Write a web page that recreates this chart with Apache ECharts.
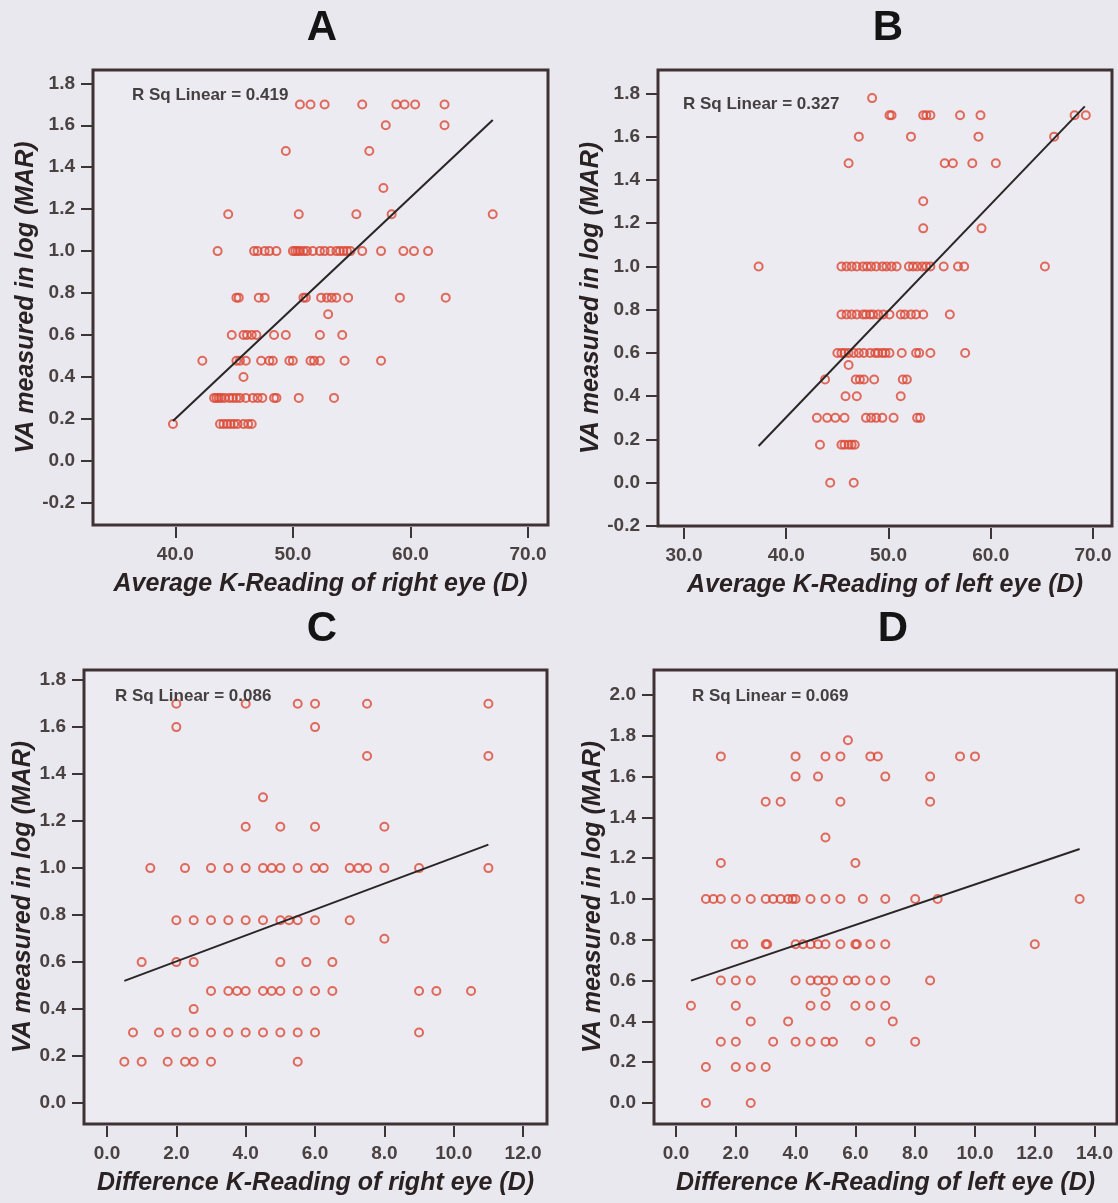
<!DOCTYPE html>
<html>
<head>
<meta charset="utf-8">
<script src="https://cdn.jsdelivr.net/npm/echarts@6/dist/echarts.min.js"></script>
<style>
  html, body { margin: 0; padding: 0; background: #e9e8ef; }
  #container { width: 1118px; height: 1203px; }
</style>
</head>
<body>
<div id="container"></div>
<script>
// VA (logMAR) levels, one row of K-readings per level
const vaA = [1.699, 1.6, 1.477, 1.301, 1.176, 1.0, 0.778, 0.699, 0.6, 0.477, 0.4, 0.3, 0.176];
const kA = [
  [50.6, 51.5, 52.7, 55.9, 58.8, 59.5, 60.4, 62.9],
  [57.9, 62.9],
  [49.4, 56.5],
  [57.7],
  [44.5, 50.5, 55.4, 58.4, 67.0],
  [43.6, 46.7, 47.0, 47.6, 48.0, 48.6, 50.0, 50.2, 50.4, 50.6, 50.9, 51.2, 51.7, 52.3, 52.7, 53.2, 53.7, 54.0, 54.3, 54.6, 54.9, 55.9, 57.5, 59.4, 60.3, 61.5],
  [45.2, 45.4, 47.1, 47.6, 50.9, 51.1, 52.4, 52.9, 53.3, 53.7, 54.7, 59.1, 63.0],
  [53.0],
  [44.8, 45.8, 46.1, 46.5, 46.9, 48.4, 49.4, 52.3, 54.2],
  [42.3, 45.2, 45.5, 46.0, 47.3, 48.0, 48.3, 49.7, 50.0, 51.5, 51.8, 52.3, 54.4, 57.5],
  [45.8],
  [43.3, 43.5, 43.7, 43.9, 44.2, 44.6, 44.9, 45.2, 45.5, 46.0, 46.6, 47.0, 47.4, 48.4, 48.6, 50.5, 53.5],
  [39.8, 43.8, 44.1, 44.4, 44.7, 45.0, 45.3, 45.8, 46.2, 46.5]
];

const vaB = [1.778, 1.699, 1.6, 1.477, 1.301, 1.176, 1.0, 0.778, 0.6, 0.544, 0.477, 0.4, 0.3, 0.176, 0.0];
const kB = [
  [48.4],
  [50.1, 50.3, 53.4, 53.7, 54.1, 57.0, 59.0, 68.2, 69.3],
  [47.1, 52.2, 58.8, 66.2],
  [46.1, 55.5, 56.3, 58.2, 60.5],
  [53.4],
  [53.4, 59.1],
  [37.3, 45.4, 45.9, 46.4, 46.9, 47.5, 47.9, 48.3, 48.8, 49.4, 49.8, 50.3, 50.8, 52.0, 52.4, 52.8, 53.3, 53.7, 54.1, 55.4, 56.8, 57.4, 65.3],
  [45.4, 45.9, 46.4, 46.9, 47.5, 47.8, 48.2, 48.5, 49.0, 49.5, 50.1, 51.2, 51.6, 52.2, 52.7, 53.4, 56.0],
  [45.0, 45.4, 45.7, 46.1, 46.6, 47.1, 47.6, 48.2, 48.7, 49.0, 49.4, 49.7, 50.1, 51.3, 52.7, 53.0, 54.1, 57.5],
  [46.1],
  [43.8, 46.8, 47.2, 47.6, 48.6, 51.4, 51.8],
  [45.8, 46.9, 51.2],
  [43.0, 44.0, 44.8, 45.7, 47.8, 48.3, 48.8, 49.4, 50.5, 52.8, 53.1],
  [43.3, 45.4, 45.7, 46.1, 46.4, 46.7],
  [44.3, 46.6]
];

const vaC = [1.699, 1.6, 1.477, 1.301, 1.176, 1.0, 0.778, 0.699, 0.6, 0.477, 0.4, 0.3, 0.176];
const kC = [
  [2.0, 4.0, 5.5, 6.0, 7.5, 11.0],
  [2.0, 6.0],
  [7.5, 11.0],
  [4.5],
  [4.0, 5.0, 6.0, 8.0],
  [1.25, 2.25, 3.0, 3.5, 4.0, 4.5, 4.75, 5.0, 5.5, 6.0, 6.25, 7.0, 7.25, 7.5, 8.0, 9.0, 11.0],
  [2.0, 2.5, 3.0, 3.5, 4.0, 4.5, 5.0, 5.25, 5.5, 6.0, 7.0],
  [8.0],
  [1.0, 2.0, 2.5, 5.0, 5.75, 6.5],
  [3.0, 3.5, 3.75, 4.0, 4.5, 4.75, 5.0, 5.5, 6.0, 6.5, 9.0, 9.5, 10.5],
  [2.5],
  [0.75, 1.5, 2.0, 2.5, 3.0, 3.5, 4.0, 4.5, 5.0, 5.5, 6.0, 9.0],
  [0.5, 1.0, 1.75, 2.25, 2.5, 3.0, 5.5]
];

const vaD = [1.778, 1.699, 1.6, 1.477, 1.301, 1.176, 1.0, 0.778, 0.6, 0.544, 0.477, 0.4, 0.3, 0.176, 0.0];
const kD = [
  [5.75],
  [1.5, 4.0, 5.0, 5.5, 6.5, 6.75, 9.5, 10.0],
  [4.0, 4.75, 7.0, 8.5],
  [3.0, 3.5, 5.5, 8.5],
  [5.0],
  [1.5, 6.0],
  [1.0, 1.25, 1.5, 2.0, 2.5, 3.0, 3.25, 3.5, 3.75, 3.9, 4.0, 4.5, 5.0, 5.5, 6.25, 7.0, 8.0, 8.75, 13.5],
  [2.0, 2.25, 3.0, 3.05, 4.0, 4.25, 4.5, 4.75, 5.0, 5.5, 6.0, 6.05, 6.5, 7.0, 12.0],
  [1.5, 2.0, 2.5, 4.0, 4.5, 4.75, 5.0, 5.25, 5.75, 6.0, 6.5, 7.0, 8.5],
  [5.0],
  [0.5, 2.0, 4.5, 5.0, 6.0, 6.5, 7.0],
  [2.5, 3.75, 7.25],
  [1.5, 2.0, 3.25, 4.0, 4.5, 5.0, 5.25, 6.5, 8.0],
  [1.0, 2.0, 2.5, 3.0],
  [1.0, 2.5]
];

// fitted line end points
const fitA = [[39.8, 0.19], [67.0, 1.625]];
const fitB = [[37.3, 0.17], [69.2, 1.74]];
const fitC = [[0.5, 0.52], [11.0, 1.10]];
const fitD = [[0.5, 0.60], [13.5, 1.245]];

const rSq = ['0.419', '0.327', '0.086', '0.069'];
const panelNames = ['A', 'B', 'C', 'D'];
const xNames = [
  'Average K-Reading of right eye (D)',
  'Average K-Reading of left eye (D)',
  'Difference K-Reading of right eye (D)',
  'Difference K-Reading of left eye (D)'
];
const xTicks = [
  [40, 50, 60, 70],
  [30, 40, 50, 60, 70],
  [0, 2, 4, 6, 8, 10, 12],
  [0, 2, 4, 6, 8, 10, 12, 14]
];
const yTicks = [
  [-0.2, 0, 0.2, 0.4, 0.6, 0.8, 1.0, 1.2, 1.4, 1.6, 1.8],
  [-0.2, 0, 0.2, 0.4, 0.6, 0.8, 1.0, 1.2, 1.4, 1.6, 1.8],
  [0, 0.2, 0.4, 0.6, 0.8, 1.0, 1.2, 1.4, 1.6, 1.8],
  [0, 0.2, 0.4, 0.6, 0.8, 1.0, 1.2, 1.4, 1.6, 1.8, 2.0]
];

var FONT = '"Liberation Sans", Arial, sans-serif';
var INK = '#3d3434';

// layout of the four plot frames
var boxes = [
  { left: 93, top: 70, width: 455, height: 455, xr: [33.0, 71.7], yr: [-0.306, 1.8635], yGap: 53, title: [322, 28], rs: [132, 95] },
  { left: 658, top: 70, width: 454, height: 456, xr: [27.46, 71.86], yr: [-0.2, 1.908], yGap: 50, title: [888, 28], rs: [683, 104] },
  { left: 84, top: 670, width: 463, height: 454, xr: [-0.663, 12.69], yr: [-0.089, 1.843], yGap: 46, title: [322, 629], rs: [115, 696] },
  { left: 654, top: 670, width: 463, height: 454, xr: [-0.736, 14.75], yr: [-0.103, 2.1225], yGap: 48, title: [893, 629], rs: [692, 696] }
];

function toPoints(vas, ks) {
  var pts = [];
  for (var i = 0; i < vas.length; i++) {
    for (var j = 0; j < ks[i].length; j++) {
      pts.push([ks[i][j], vas[i]]);
    }
  }
  return pts;
}

var scatterData = [toPoints(vaA, kA), toPoints(vaB, kB), toPoints(vaC, kC), toPoints(vaD, kD)];
var fits = [fitA, fitB, fitC, fitD];

var grids = [], xAxes = [], yAxes = [], series = [], graphics = [];
boxes.forEach(function (b, i) {
  grids.push({
    left: b.left, top: b.top, width: b.width, height: b.height,
    show: true, backgroundColor: '#ecebf2', borderColor: '#3e3234', borderWidth: 3
  });
  xAxes.push({
    gridIndex: i, type: 'value', position: 'bottom', min: b.xr[0], max: b.xr[1], offset: 2,
    axisLine: { show: false, onZero: false },
    splitLine: { show: false },
    axisTick: { show: true, length: 11, customValues: xTicks[i], lineStyle: { color: INK, width: 2 } },
    axisLabel: {
      customValues: xTicks[i], margin: 18, fontSize: 19, fontWeight: 'bold', fontFamily: FONT, color: '#4a4141',
      formatter: function (v) { return v.toFixed(1); }
    },
    name: xNames[i], nameLocation: 'middle', nameGap: 45,
    nameTextStyle: { fontSize: 25, fontWeight: 'bold', fontStyle: 'italic', fontFamily: FONT, color: '#2a2222' }
  });
  yAxes.push({
    gridIndex: i, type: 'value', position: 'left', min: b.yr[0], max: b.yr[1],
    axisLine: { show: false, onZero: false },
    splitLine: { show: false },
    axisTick: { show: true, length: 12, customValues: yTicks[i], lineStyle: { color: INK, width: 2 } },
    axisLabel: {
      customValues: yTicks[i], margin: 18, fontSize: 19, fontWeight: 'bold', fontFamily: FONT, color: '#4a4141',
      formatter: function (v) { return v.toFixed(1); }
    },
    name: 'VA measured in log (MAR)', nameLocation: 'middle', nameGap: b.yGap,
    nameTextStyle: { fontSize: 25, fontWeight: 'bold', fontStyle: 'italic', fontFamily: FONT, color: '#2a2222' }
  });
  series.push({
    type: 'scatter', xAxisIndex: i, yAxisIndex: i,
    data: scatterData[i], symbol: 'circle', symbolSize: 8,
    itemStyle: { color: 'rgba(0,0,0,0)', borderColor: '#dc4835', borderWidth: 2 },
    z: 2
  });
  series.push({
    type: 'line', xAxisIndex: i, yAxisIndex: i,
    data: fits[i], symbol: 'none', silent: true,
    lineStyle: { color: '#2b2626', width: 2 },
    z: 3
  });
  graphics.push({
    type: 'text', x: b.title[0], y: b.title[1],
    style: { text: panelNames[i], font: 'bold 42px ' + FONT, fill: '#141414', align: 'center', verticalAlign: 'middle' }
  });
  graphics.push({
    type: 'text', x: b.rs[0], y: b.rs[1], z: 10,
    style: { text: 'R Sq Linear = ' + rSq[i], font: 'bold 17px ' + FONT, fill: '#444040', align: 'left', verticalAlign: 'middle' }
  });
});

var myChart = echarts.init(document.getElementById('container'), null, { renderer: 'canvas' });
myChart.setOption({
  backgroundColor: '#e9e8ef',
  animation: false,
  grid: grids,
  xAxis: xAxes,
  yAxis: yAxes,
  series: series,
  graphic: graphics
});
</script>
</body>
</html>
